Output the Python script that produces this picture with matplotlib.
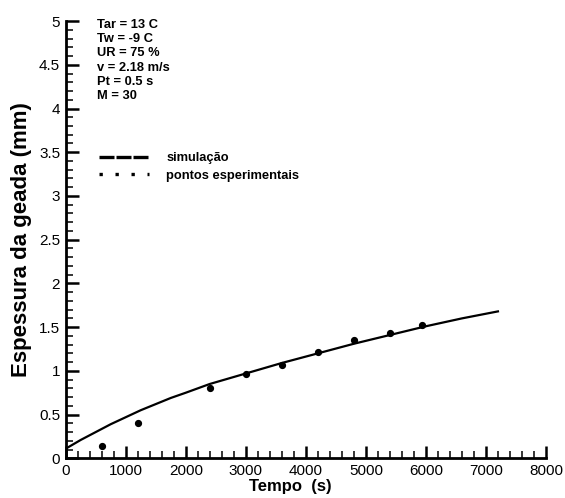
import matplotlib
matplotlib.use("Agg")
import matplotlib.pyplot as plt
from matplotlib.lines import Line2D
from matplotlib.ticker import MultipleLocator, FuncFormatter

plt.rcParams['font.family'] = ['Liberation Sans', 'DejaVu Sans']

# simulation curve
sim_t = [0, 250, 500, 750, 1000, 1250, 1500, 1750, 2000, 2400, 3000, 3600, 4200, 4800, 5400, 6000, 6600, 7200]
sim_h = [0.11, 0.21, 0.30, 0.39, 0.47, 0.55, 0.62, 0.69, 0.75, 0.85, 0.97, 1.09, 1.20, 1.31, 1.41, 1.51, 1.60, 1.68]

# experimental points
exp_t = [600, 1200, 2400, 3000, 3600, 4200, 4800, 5400, 5940]
exp_h = [0.14, 0.40, 0.80, 0.96, 1.07, 1.22, 1.35, 1.43, 1.52]

info = ["Tar = 13 C", "Tw = -9 C", "UR = 75 %", "v = 2.18 m/s", "Pt = 0.5 s", "M = 30"]

fig = plt.figure(figsize=(5.65, 4.98), dpi=100)
ax = fig.add_axes([0.1163, 0.0797, 0.850, 0.878])

ax.plot(sim_t, sim_h, color='k', lw=1.6)
ax.plot(exp_t, exp_h, 'o', color='k', ms=4.2)

ax.set_xlim(0, 8000)
ax.set_ylim(0, 5)
ax.spines['top'].set_visible(False)
ax.spines['right'].set_visible(False)
ax.spines['left'].set_linewidth(2)
ax.spines['bottom'].set_linewidth(2)

ax.xaxis.set_major_locator(MultipleLocator(1000))
ax.xaxis.set_minor_locator(MultipleLocator(200))
ax.yaxis.set_major_locator(MultipleLocator(0.5))
ax.yaxis.set_minor_locator(MultipleLocator(0.1))
fmt = FuncFormatter(lambda v, p: '%g' % v)
ax.xaxis.set_major_formatter(fmt)
ax.yaxis.set_major_formatter(fmt)
ax.tick_params(which='major', direction='in', length=9, width=1.8, labelsize=11, pad=4)
ax.tick_params(which='minor', direction='in', length=4.7, width=1.1)

ax.set_xlabel("Tempo  (s)", fontsize=12, fontweight='bold')
ax.xaxis.set_label_coords(0.467, -0.048)
ax.set_ylabel("Espessura da geada (mm)", fontsize=16, fontweight='bold')
ax.yaxis.set_label_coords(-0.07, 0.5)

for i, line in enumerate(info):
    ax.text(0.065, 0.991 - i * 0.0325, line, transform=ax.transAxes,
            fontsize=9.3, fontweight='bold', va='center', ha='left')

h1 = Line2D([], [], color='k', lw=2.4, dashes=(4.5, 0.6))
h2 = Line2D([], [], color='k', lw=2.4, dashes=(1, 3.8))
ax.legend([h1, h2], ["simulação", "pontos esperimentais"], loc='upper left',
          bbox_to_anchor=(0.045, 0.727), frameon=False, handlelength=3.9,
          handletextpad=1.3, labelspacing=0.42,
          prop={'size': 9.3, 'weight': 'bold'})

plt.savefig("out.png", dpi=100)
